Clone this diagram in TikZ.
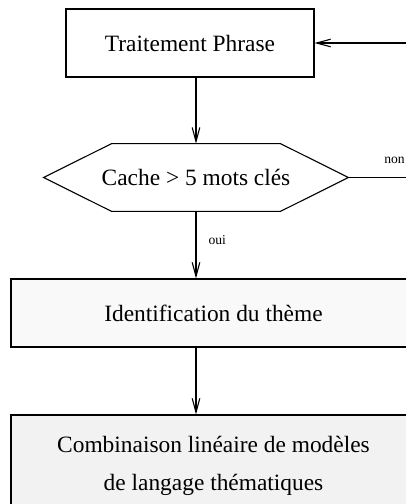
\documentclass[tikz,border=0pt]{standalone}
\usepackage{fontspec}
\setmainfont{Liberation Serif}
\usetikzlibrary{arrows.meta}
\tikzset{box/.style={draw, line width=0.55pt, minimum height=34pt, inner sep=0pt, font=\fontsize{11.7}{19}\selectfont},
  hexa/.style={minimum width=152pt, minimum height=33.5pt, inner sep=0pt, font=\fontsize{11.7}{19}\selectfont},
  fleche/.style={line width=0.55pt, -{Straight Barb[length=7pt, width=3.8pt]}},
  petit/.style={font=\fontsize{6.8}{8}\selectfont}}

\begin{document}
\begin{tikzpicture}[x=0.5pt, y=-0.5pt]
      \useasboundingbox (0,0) rectangle (406,504);
      \clip (0,0) rectangle (406,504);

      \node [box, minimum width=124pt] (phrase) at (190,43) {Traitement Phrase};
      \node [hexa] (cache) at (196,177.5) {Cache > 5 mots clés};
      \draw [line width=0.55pt] (cache.west) -- ([xshift=34pt]cache.north west) -- ([xshift=-34pt]cache.north east) -- (cache.east) -- ([xshift=-34pt]cache.south east) -- ([xshift=34pt]cache.south west) -- cycle;
      \node [box, fill=gray!5, minimum width=202.5pt] (theme) at (213.5,313) {Identification du thème};
      \node [box, fill=gray!10, minimum width=202.5pt, minimum height=51pt, align=center] (modele) at (213.5,466) {Combinaison linéaire de modèles\\de langage thématiques};

      \coordinate (retour) at (406,43);
      \coordinate (sortie) at (406,177.5);

      \draw [fleche] (retour) -- (phrase.east);
      \draw [fleche] (phrase.south -| cache.north) -- (cache.north);
      \draw [line width=0.55pt] (cache.east) -- (sortie) node [pos=0.8, above=3.5pt, petit] {non};
      \draw [fleche] (cache.south) -- (cache.south |- theme.north) node [pos=0.43, right=2.7pt, petit] {oui};
      \draw [fleche] (cache.south |- theme.south) -- (cache.south |- modele.north);
    \end{tikzpicture}
\end{document}
